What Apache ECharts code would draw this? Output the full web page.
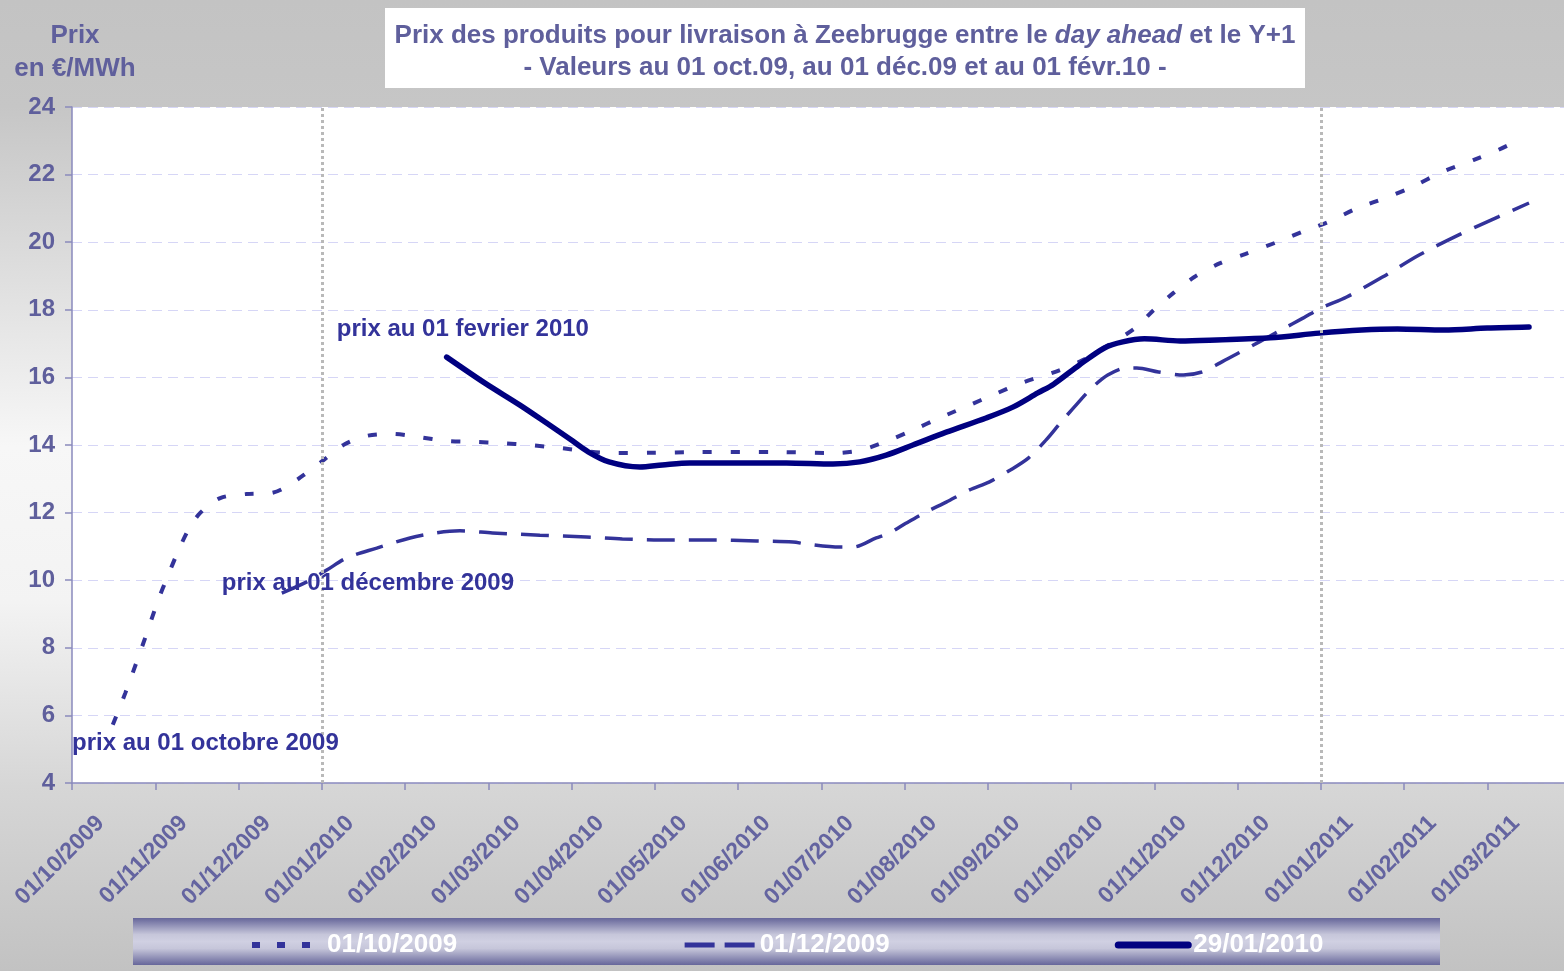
<!DOCTYPE html>
<html lang="fr">
<head>
  <meta charset="UTF-8">
  <title>Prix Zeebrugge</title>
  <script src="https://cdn.jsdelivr.net/npm/echarts@6/dist/echarts.min.js"></script>
  <style>
    html, body { margin: 0; padding: 0; }
    #chart {
      width: 1564px; height: 971px;
      background: linear-gradient(to bottom, #c3c3c3 0%, #c6c6c6 11%, #f7f7f7 46%, #f3f3f3 62%, #d6d6d6 81%, #c2c2c2 100%);
    }
  </style>
</head>
<body>
  <div id="chart"></div>
<script>
  // x = months since 01/10/2009
  var tickLabels = ['01/10/2009', '01/11/2009', '01/12/2009', '01/01/2010', '01/02/2010', '01/03/2010',
    '01/04/2010', '01/05/2010', '01/06/2010', '01/07/2010', '01/08/2010', '01/09/2010',
    '01/10/2010', '01/11/2010', '01/12/2010', '01/01/2011', '01/02/2011', '01/03/2011'];
  var seriesNames = ['01/10/2009', '01/12/2009', '29/01/2010'];
  var yearMarks = [3, 15];

  var prixOct09 = [[0.49, 5.72], [0.64, 6.66], [0.84, 8.02], [1.04, 9.44], [1.15, 10.12], [1.27, 10.83],
    [1.40, 11.5], [1.54, 11.99], [1.78, 12.43], [2.09, 12.55], [2.39, 12.58], [2.55, 12.73], [2.80, 13.14],
    [3.04, 13.59], [3.28, 14.03], [3.54, 14.27], [3.85, 14.33], [4.15, 14.24], [4.50, 14.12], [4.84, 14.09],
    [5.14, 14.06], [5.50, 14.0], [5.86, 13.91], [6.49, 13.76], [7.0, 13.77], [7.5, 13.79], [8.5, 13.79],
    [9.14, 13.76], [9.48, 13.85], [9.82, 14.15], [10.1, 14.44], [10.42, 14.8], [10.78, 15.18], [11.06, 15.48],
    [11.40, 15.83], [11.87, 16.22], [12.14, 16.51], [12.35, 16.81], [12.77, 17.46], [12.99, 17.99],
    [13.23, 18.5], [13.48, 18.97], [13.79, 19.38], [14.09, 19.65], [14.47, 20.0], [14.83, 20.36],
    [15.09, 20.6], [15.44, 21.01], [15.81, 21.34], [16.09, 21.63], [16.46, 22.08], [16.83, 22.43],
    [17.13, 22.73], [17.40, 23.05]];

  var prixDec09 = [[2.52, 9.62], [2.82, 9.95], [3.06, 10.3], [3.30, 10.66], [3.66, 10.95], [4.06, 11.25],
    [4.38, 11.4], [4.66, 11.46], [5.05, 11.4], [5.62, 11.33], [6.18, 11.28], [6.61, 11.22], [7.21, 11.19],
    [7.66, 11.19], [8.22, 11.16], [8.66, 11.13], [8.82, 11.07], [9.22, 10.98], [9.38, 10.98], [9.66, 11.25],
    [9.82, 11.4], [10.02, 11.69], [10.26, 12.02], [10.5, 12.31], [10.78, 12.67], [11.02, 12.91],
    [11.27, 13.26], [11.49, 13.62], [11.70, 14.15], [11.87, 14.65], [12.08, 15.24], [12.25, 15.69],
    [12.44, 16.07], [12.66, 16.28], [12.79, 16.28], [13.05, 16.16], [13.35, 16.07], [13.57, 16.16],
    [13.79, 16.43], [14.01, 16.72], [14.26, 17.05], [14.52, 17.4], [14.79, 17.76], [15.0, 18.05],
    [15.31, 18.38], [15.74, 18.97], [16.18, 19.62], [16.65, 20.21], [17.13, 20.75], [17.50, 21.16]];

  var prixFev10 = [[4.50, 16.6], [4.96, 15.83], [5.38, 15.18], [5.70, 14.65], [5.98, 14.18], [6.20, 13.8],
    [6.45, 13.5], [6.82, 13.35], [7.09, 13.41], [7.42, 13.47], [7.98, 13.47], [8.58, 13.47],
    [9.14, 13.44], [9.46, 13.5], [9.78, 13.7], [10.1, 14.0], [10.5, 14.38], [10.98, 14.8], [11.3, 15.12],
    [11.6, 15.54], [11.79, 15.8], [12.1, 16.37], [12.4, 16.87], [12.62, 17.05], [12.88, 17.14],
    [13.31, 17.08], [13.75, 17.11], [14.39, 17.17], [14.98, 17.31], [15.49, 17.4], [15.92, 17.43],
    [16.48, 17.4], [17.0, 17.46], [17.5, 17.49]];

  // annotation anchors (left edge of text) in data coords
  var notes = [
    { text: 'prix au 01 fevrier 2010', at: [3.18, 17.43] },
    { text: 'prix au 01 décembre 2009', at: [1.80, 9.92] },
    { text: 'prix au 01 octobre 2009', at: [0.0, 5.16] }
  ];

  var purple = '#5f5f9c';
  var lineBlue = '#33339a';
  var font = '"Liberation Sans", Arial, sans-serif';

  var charts = echarts.init(document.getElementById('chart'));

  var option = {
    backgroundColor: 'transparent',
    animation: false,
    textStyle: { fontFamily: font },
    graphic: [
      {
        type: 'rect', left: 385, top: 8, z: 0,
        shape: { width: 920, height: 80 },
        style: { fill: '#ffffff' }
      },
      {
        type: 'text', x: 845, y: 20, z: 1,
        style: {
          align: 'center', verticalAlign: 'top',
          text: '{n|Prix des produits pour livraison à Zeebrugge entre le }{i|day ahead}{n| et le Y+1}\n{n|- Valeurs au 01 oct.09, au 01 déc.09 et au 01 févr.10 -}',
          rich: {
            n: { fontFamily: font, fontSize: 26, fontWeight: 'bold', fill: purple, lineHeight: 32 },
            i: { fontFamily: font, fontSize: 26, fontWeight: 'bold', fontStyle: 'italic', fill: purple, lineHeight: 32 }
          }
        }
      },
      {
        type: 'rect', left: 133, top: 918, z: 0,
        shape: { width: 1307, height: 47 },
        style: {
          fill: new echarts.graphic.LinearGradient(0, 0, 0, 1, [
            { offset: 0, color: '#66669a' },
            { offset: 0.35, color: '#c6c6da' },
            { offset: 0.5, color: '#d0d0e2' },
            { offset: 0.65, color: '#c6c6da' },
            { offset: 1, color: '#66669a' }
          ])
        }
      }
    ],
    legend: {
      left: 244,
      top: 927,
      itemWidth: 70,
      itemHeight: 28,
      itemGap: 225,
      itemStyle: { opacity: 0 },
      data: [
        { name: seriesNames[0], lineStyle: { width: 6, type: [8, 17], cap: 'butt' } },
        { name: seriesNames[1], lineStyle: { width: 5, type: [30, 10], cap: 'butt' } },
        { name: seriesNames[2], lineStyle: { width: 7, cap: 'round' } }
      ],
      textStyle: { color: '#ffffff', fontSize: 26, fontWeight: 'bold', fontFamily: font }
    },
    grid: {
      left: 72,
      right: 0,
      top: 107,
      bottom: 188,
      show: true,
      backgroundColor: '#ffffff',
      borderWidth: 0
    },
    xAxis: {
      type: 'value',
      min: 0,
      max: 17.92,
      interval: 1,
      axisLine: { lineStyle: { color: '#8a8abc', width: 1.5 } },
      axisTick: { length: 7, lineStyle: { color: '#8a8abc', width: 1.5 } },
      splitLine: { show: false },
      axisLabel: {
        rotate: 45,
        margin: 8,
        verticalAlign: 'top',
        padding: [29, 0, 0, 0],
        showMaxLabel: false,
        color: '#6464a0',
        fontSize: 23,
        fontWeight: 'bold',
        fontFamily: font,
        formatter: function (v) {
          return Number.isInteger(v) && tickLabels[v] ? tickLabels[v] : '';
        }
      }
    },
    yAxis: {
      type: 'value',
      min: 4,
      max: 24,
      interval: 2,
      name: 'Prix\nen €/MWh',
      nameLocation: 'end',
      nameGap: 22,
      nameTextStyle: {
        color: purple, fontSize: 26, fontWeight: 'bold', fontFamily: font,
        lineHeight: 33, align: 'center', padding: [0, 0, 0, 6]
      },
      axisLine: { show: true, lineStyle: { color: '#8a8abc', width: 1.5 } },
      axisTick: { show: true, length: 7, lineStyle: { color: '#8a8abc', width: 1.5 } },
      axisLabel: { color: purple, fontSize: 24, fontWeight: 'bold', fontFamily: font, margin: 17 },
      splitLine: { lineStyle: { color: '#d6d6f6', type: [10, 6], width: 1 } }
    },
    series: [
      {
        name: seriesNames[0],
        type: 'line',
        data: prixOct09,
        smooth: 0.3,
        symbol: 'none',
        z: 3,
        lineStyle: { color: lineBlue, width: 4, type: [9, 19] },
        itemStyle: { color: lineBlue },
        markLine: {
          silent: true,
          symbol: 'none',
          label: { show: false },
          lineStyle: { color: '#b9b9b9', type: [3, 3], width: 3 },
          data: yearMarks.map(function (m) { return { xAxis: m }; })
        },
        markPoint: {
          symbolSize: 0,
          data: notes.map(function (n) { return { coord: n.at, value: n.text }; }),
          label: {
            show: true,
            position: 'right',
            distance: 0,
            color: lineBlue,
            fontSize: 24,
            fontWeight: 'bold',
            fontFamily: font,
            formatter: '{c}'
          }
        }
      },
      {
        name: seriesNames[1],
        type: 'line',
        data: prixDec09,
        smooth: 0.3,
        symbol: 'none',
        z: 3,
        lineStyle: { color: lineBlue, width: 3.5, type: [28, 14] },
        itemStyle: { color: lineBlue }
      },
      {
        name: seriesNames[2],
        type: 'line',
        data: prixFev10,
        smooth: 0.3,
        symbol: 'none',
        z: 4,
        lineStyle: { color: '#000080', width: 5.5, cap: 'round' },
        itemStyle: { color: '#000080' }
      }
    ]
  };
  charts.setOption(option);
</script>
</body>
</html>
